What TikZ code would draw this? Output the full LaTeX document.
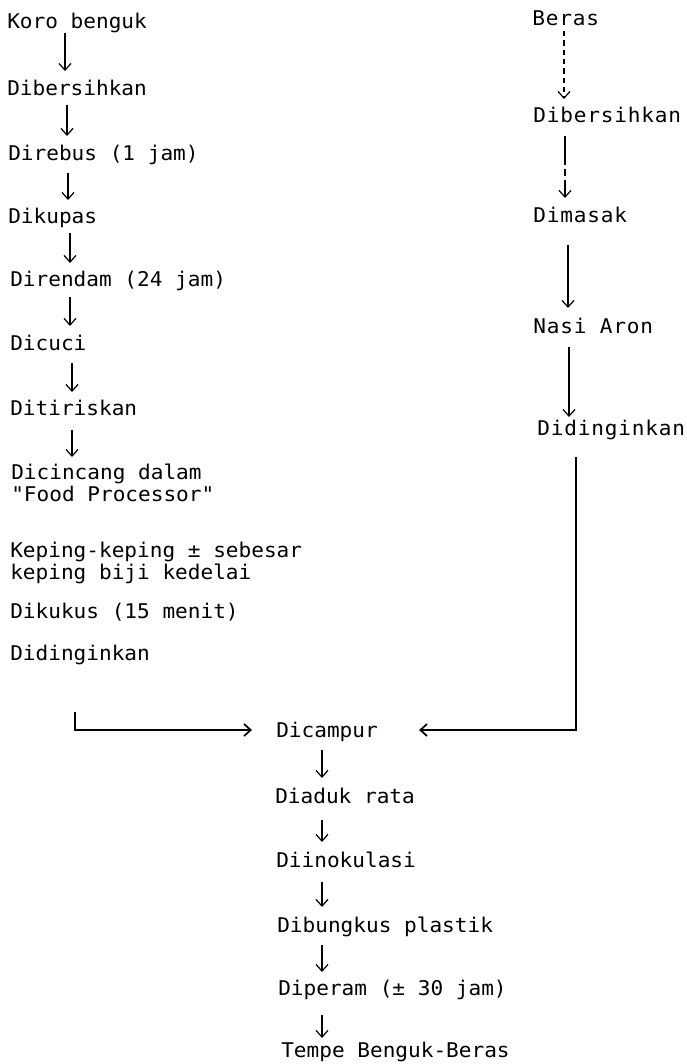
\documentclass[tikz,border=0pt]{standalone}
\usepackage{fontspec}
\newfontfamily\typewr[FakeStretch=1.04]{DejaVu Sans Mono}
\newfontfamily\typewrwide[FakeStretch=1.04,LetterSpace=4]{DejaVu Sans Mono}
\usetikzlibrary{arrows.meta}

\begin{document}
\begin{tikzpicture}[x=0.75pt,y=-0.75pt,
  lbl/.style={anchor=base west, inner sep=0pt, font=\typewr\fontsize{15.2}{20}\selectfont},
  lblw/.style={lbl, font=\typewrwide\fontsize{15.2}{20}\selectfont},
  arr/.style={line width=0.9pt, -{Straight Barb[length=5pt,width=9pt]}},
  link/.style={line width=1.3pt}]
\useasboundingbox (0,0) rectangle (686,1064);

% Koro benguk branch
\node[lbl] (koro)  at (7,28)   {Koro benguk};
\node[lbl] (bersL) at (7,95)   {Dibersihkan};
\node[lbl] (rebus) at (8,160)  {Direbus (1 jam)};
\node[lbl] (kupas) at (8,223)  {Dikupas};
\node[lbl] (rendam) at (10,286) {Direndam (24 jam)};
\node[lbl] (cuci)  at (10,350) {Dicuci};
\node[lbl] (tiris) at (10,415) {Ditiriskan};
\node[lbl] (cinA)  at (11,479) {Dicincang dalam};
\node[lbl] (cinB)  at (11,501) {"Food Processor"};
\node[lbl] (kepA)  at (10,557) {Keping-keping ± sebesar};
\node[lbl] (kepB)  at (10,579) {keping biji kedelai};
\node[lbl] (kukus) at (10,618) {Dikukus (15 menit)};
\node[lbl] (dinL)  at (10,660) {Didinginkan};

\draw[arr] ([shift={(58,5)}]koro.base west)   -- ([shift={(58,-24)}]bersL.base west);
\draw[arr] ([shift={(60,10)}]bersL.base west) -- ([shift={(59,-24)}]rebus.base west);
\draw[arr] ([shift={(60,13)}]rebus.base west) -- ([shift={(60,-23)}]kupas.base west);
\draw[arr] ([shift={(62,10)}]kupas.base west) -- ([shift={(60,-23)}]rendam.base west);
\draw[arr] ([shift={(60,11)}]rendam.base west) -- ([shift={(60,-24)}]cuci.base west);
\draw[arr] ([shift={(62,13)}]cuci.base west)  -- ([shift={(62,-23)}]tiris.base west);
\draw[arr] ([shift={(62,15)}]tiris.base west) -- ([shift={(61,-22)}]cinA.base west);

% Beras branch
\node[lblw] (beras) at (532,25)  {Beras};
\node[lblw] (bersR) at (533,122) {Dibersihkan};
\node[lblw] (masak) at (533,222) {Dimasak};
\node[lblw] (aron)  at (533,333) {Nasi Aron};
\node[lblw] (dinR)  at (537,435) {Didinginkan};

\draw[arr, dash pattern=on 4pt off 3pt] ([shift={(32,6)}]beras.base west) -- ([shift={(31,-23)}]bersR.base west);
\draw[arr, dash pattern=on 22pt off 3pt on 5pt off 3pt] ([shift={(32,14)}]bersR.base west) -- ([shift={(32,-24)}]masak.base west);
\draw[arr] ([shift={(35,23)}]masak.base west) -- ([shift={(35,-25)}]aron.base west);
\draw[arr] ([shift={(36,14)}]aron.base west)  -- ([shift={(32,-18)}]dinR.base west);

% Mixing and processing
\node[lbl] (campur) at (276,737)  {Dicampur};
\node[lbl] (aduk)   at (275,803)  {Diaduk rata};
\node[lbl] (inok)   at (276,867)  {Diinokulasi};
\node[lbl] (bungkus) at (277,932) {Dibungkus plastik};
\node[lbl] (peram)  at (278,995)  {Diperam (± 30 jam)};
\node[lbl] (tempe)  at (281,1057) {Tempe Benguk-Beras};

\draw[arr, link] ([shift={(65,52)}]dinL.base west) |- ([shift={(-24,-7)}]campur.base west);
\draw[arr, link] ([shift={(39,22)}]dinR.base west) |- ([shift={(41,-7)}]campur.base east);

\draw[arr] ([shift={(46,13)}]campur.base west) -- ([shift={(47,-25)}]aduk.base west);
\draw[arr] ([shift={(47,17)}]aduk.base west)   -- ([shift={(46,-25)}]inok.base west);
\draw[arr] ([shift={(46,15)}]inok.base west)   -- ([shift={(45,-25)}]bungkus.base west);
\draw[arr] ([shift={(45,13)}]bungkus.base west) -- ([shift={(44,-23)}]peram.base west);
\draw[arr] ([shift={(44,20)}]peram.base west)  -- ([shift={(41,-19)}]tempe.base west);
\end{tikzpicture}
\end{document}
